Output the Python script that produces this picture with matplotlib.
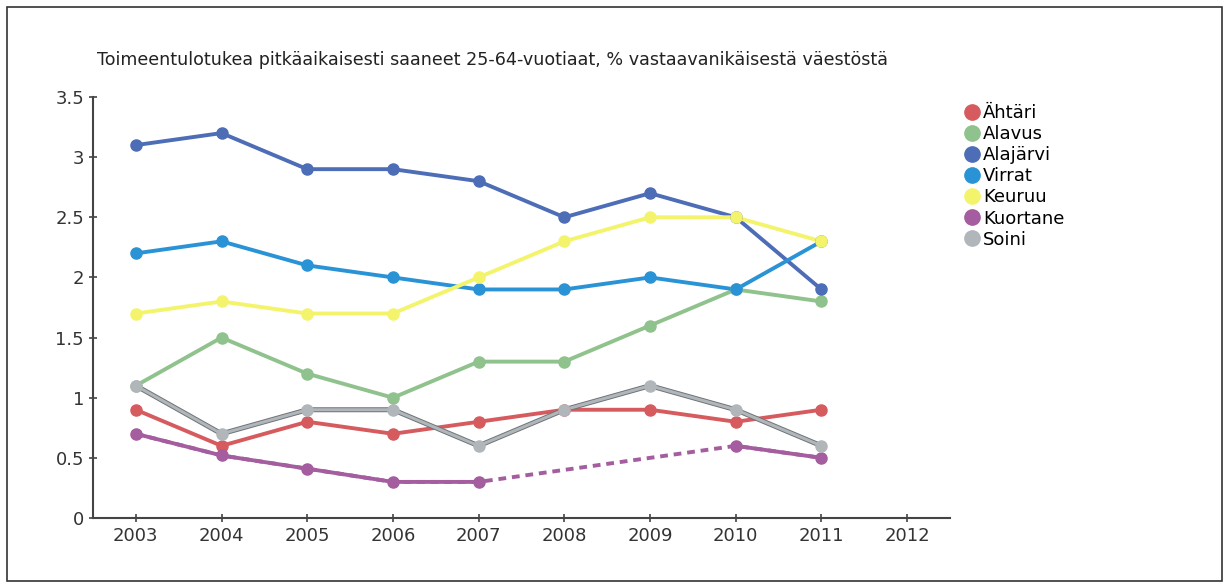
import numpy as np
import matplotlib.pyplot as plt
import matplotlib.patheffects as pe
from matplotlib.patches import Rectangle
from matplotlib.lines import Line2D

years = [2003, 2004, 2005, 2006, 2007, 2008, 2009, 2010, 2011]
x_ticks = [2003, 2004, 2005, 2006, 2007, 2008, 2009, 2010, 2011, 2012]
y_ticks = [0, 0.5, 1, 1.5, 2, 2.5, 3, 3.5]
y_labels = ["0", "0.5", "1", "1.5", "2", "2.5", "3", "3.5"]

names = ["Ähtäri", "Alavus", "Alajärvi", "Virrat", "Keuruu", "Kuortane", "Soini"]
ahtari = [0.9, 0.6, 0.8, 0.7, 0.8, 0.9, 0.9, 0.8, 0.9]
alavus = [1.1, 1.5, 1.2, 1.0, 1.3, 1.3, 1.6, 1.9, 1.8]
alajarvi = [3.1, 3.2, 2.9, 2.9, 2.8, 2.5, 2.7, 2.5, 1.9]
virrat = [2.2, 2.3, 2.1, 2.0, 1.9, 1.9, 2.0, 1.9, 2.3]
keuruu = [1.7, 1.8, 1.7, 1.7, 2.0, 2.3, 2.5, 2.5, 2.3]
kuortane = [0.7, 0.52, 0.41, 0.3, 0.3, np.nan, np.nan, 0.6, 0.5]
soini = [1.1, 0.7, 0.9, 0.9, 0.6, 0.9, 1.1, 0.9, 0.6]
series = [ahtari, alavus, alajarvi, virrat, keuruu, kuortane, soini]
colors = ["#d65b5e", "#8fc28c", "#4d6db7", "#2a93d6", "#f4f46c", "#a45d9e", "#b0b6ba"]

title = "Toimeentulotukea pitkäaikaisesti saaneet 25-64-vuotiaat, % vastaavanikäisestä väestöstä"

fig = plt.figure(figsize=(12.29, 5.88), dpi=100)
fig.patches.append(Rectangle((0.006, 0.012), 0.988, 0.976, transform=fig.transFigure,
                             fill=False, edgecolor="#333333", linewidth=1.2))
ax = fig.add_axes([93 / 1229, 1 - 518 / 588, (950 - 93) / 1229, (518 - 97) / 588])

for vals, name, col in zip(series, names, colors):
    v = np.array(vals, dtype=float)
    ok = ~np.isnan(v)
    yrs = np.array(years)
    fx = [pe.withStroke(linewidth=3.6, foreground="#6f7478")] if name == "Soini" else None
    lw = 2.2 if name == "Soini" else 2.8
    if not ok.all():
        # dashed bridge over missing years
        ax.plot(yrs[ok], v[ok], color=col, lw=lw, ls=(0, (2, 1.5)), zorder=2)
        segs = np.split(np.arange(len(v)), np.where(~ok)[0])
        for s in segs:
            s = [i for i in s if ok[i]]
            if len(s) > 1:
                ax.plot(yrs[s], v[s], color=col, lw=lw, zorder=3)
        ax.plot(yrs[ok], v[ok], "o", color=col, ms=8, zorder=4)
    else:
        ax.plot(yrs, v, color=col, lw=lw, zorder=3, path_effects=fx)
        ax.plot(yrs, v, "o", color=col, ms=8, zorder=4)

ax.set_xlim(2002.5, 2012.5)
ax.set_ylim(0, 3.5)
ax.set_xticks(x_ticks)
ax.set_yticks(y_ticks)
ax.set_yticklabels(y_labels)
for s in ["top", "right"]:
    ax.spines[s].set_visible(False)
for s in ["left", "bottom"]:
    ax.spines[s].set_color("#444444")
    ax.spines[s].set_linewidth(1.5)
ax.tick_params(direction="inout", length=6, width=1.2, color="#444444",
               labelsize=13, labelcolor="#333333")

fig.text(97 / 1229, 1 - 60 / 588, title, fontsize=12.6, color="#222222", va="center")

handles = [Line2D([], [], ls="none", marker="o", ms=11, color=c) for c in colors]
fig.legend(handles, names, loc="upper left", bbox_to_anchor=(955 / 1229, 1 - 97 / 588),
           frameon=False, handletextpad=0.05, labelspacing=0.17,
           handlelength=1.1, borderaxespad=0, prop={"size": 13})

fig.savefig("out.png", dpi=100)
